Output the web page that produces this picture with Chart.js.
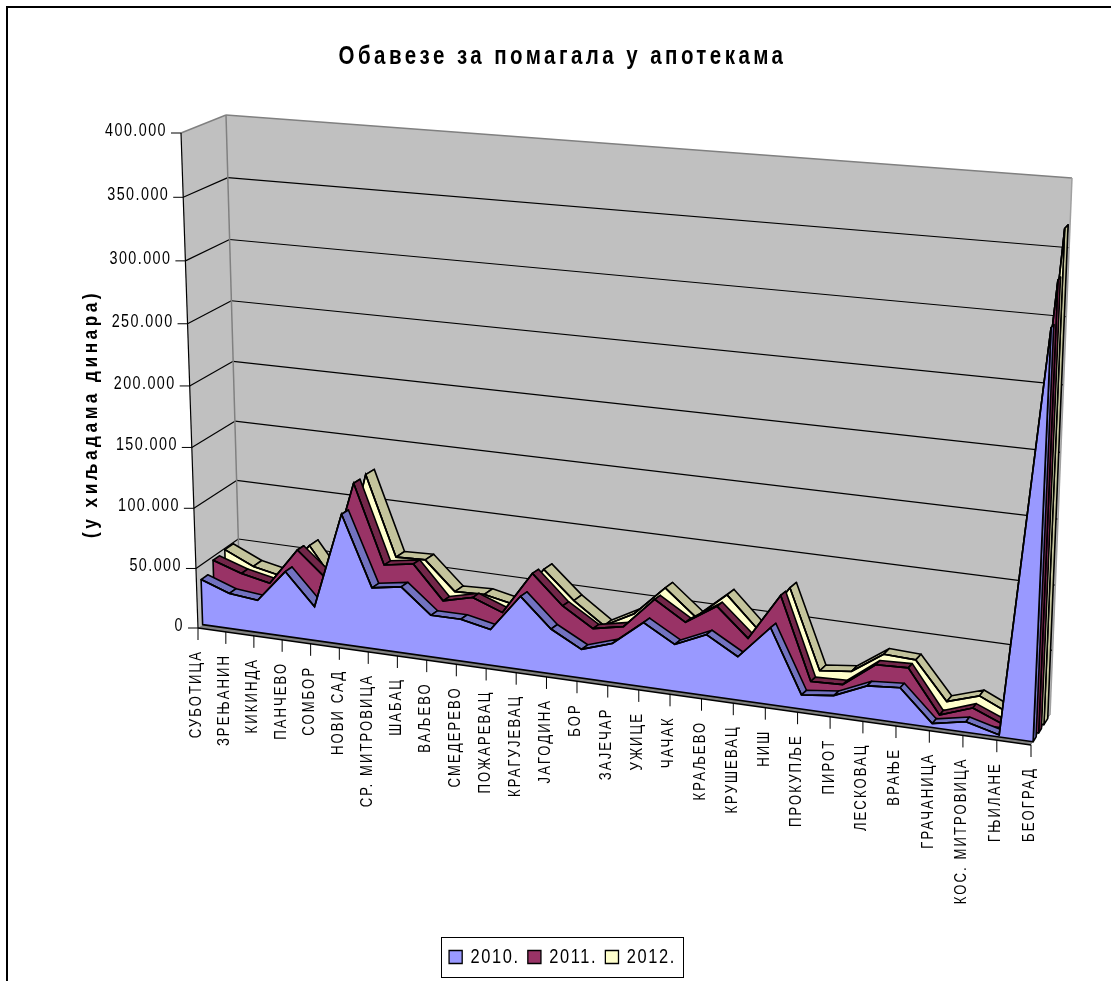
<!DOCTYPE html>
<html>
<head>
<meta charset="utf-8">
<title>Обавезе за помагала у апотекама</title>
<script src="https://cdn.jsdelivr.net/npm/chart.js@4"></script>
<style>
  html, body { margin: 0; padding: 0; background: #fff; }
  canvas { display: block; }
</style>
</head>
<body>
<canvas id="chart" width="1111" height="981"></canvas>
<script>
const cities = ['СУБОТИЦА', 'ЗРЕЊАНИН', 'КИКИНДА', 'ПАНЧЕВО', 'СОМБОР', 'НОВИ САД', 'СР. МИТРОВИЦА',
  'ШАБАЦ', 'ВАЉЕВО', 'СМЕДЕРЕВО', 'ПОЖАРЕВАЦ', 'КРАГУЈЕВАЦ', 'ЈАГОДИНА', 'БОР', 'ЗАЈЕЧАР', 'УЖИЦЕ',
  'ЧАЧАК', 'КРАЉЕВО', 'КРУШЕВАЦ', 'НИШ', 'ПРОКУПЉЕ', 'ПИРОТ', 'ЛЕСКОВАЦ', 'ВРАЊЕ', 'ГРАЧАНИЦА',
  'КОС. МИТРОВИЦА', 'ГЊИЛАНЕ', 'БЕОГРАД'];

const years = ['2010.', '2011.', '2012.'];

const values2010 = [38000, 29500, 27000, 54000, 28000, 107000, 50000, 54000, 34000, 34000, 29000, 59000, 36000, 23000,
  31000, 51000, 37000, 48000, 34000, 60000, 11000, 14000, 25000, 27000, 3000, 8000, 1500, 305000];
const values2011 = [47000, 39000, 34000, 65000, 44000, 126000, 62000, 66000, 39000, 45000, 36000, 71000, 48000, 33000,
  38000, 63000, 48000, 64000, 42000, 79000, 15000, 16000, 35000, 36000, 3000, 12000, 2000, 335000];
const values2012 = [49000, 38000, 33000, 62000, 30000, 127000, 62000, 63000, 40000, 41000, 36000, 68000, 46000, 29000,
  42000, 66000, 46000, 67000, 43000, 79000, 17000, 20000, 37000, 36000, 7000, 15000, 4000, 368000];

const faceColors = ['#9999ff', '#993366', '#ffffcc'];
const bandColors = ['#7272c0', '#732649', '#c4c49c'];

// depth of each series inside the box, 0 = front edge of the floor, 1 = back wall
const depths = [0.11, 0.40, 0.68];
const bandDepths = [0.16, 0.15, 0.2];

// all the text is set condensed and widely spaced
const textFont = '"Liberation Sans"';
const condense = 0.82;

// corners of the 3D box on screen
const box = {
  frontBottomLeft: [198, 628], frontBottomRight: [1031, 745],
  frontTopLeft: [181, 133], frontTopRight: [1055, 195],
  backBottomLeft: [240, 597], backBottomRight: [1050, 715],
  backTopLeft: [226, 115], backTopRight: [1072, 178]
};
const foreshortenFront = 0.101;
const foreshortenBack = 0.066;
const foreshortenY = 0.043;

const mix = (a, b, t) => [a[0] + (b[0] - a[0]) * t, a[1] + (b[1] - a[1]) * t];

// u along the categories, v up the value axis, w into the depth
function project(u, v, w) {
  const px = foreshortenFront + (foreshortenBack - foreshortenFront) * w;
  const s = (1 - px) * u / (1 - px * u);
  const t = (1 - foreshortenY) * v / (1 - foreshortenY * v);
  const front = mix(mix(box.frontBottomLeft, box.frontBottomRight, s), mix(box.frontTopLeft, box.frontTopRight, s), t);
  const back = mix(mix(box.backBottomLeft, box.backBottomRight, s), mix(box.backTopLeft, box.backTopRight, s), t);
  return mix(front, back, w);
}

function poly(ctx, pts, fill, stroke, width) {
  ctx.beginPath();
  pts.forEach((p, i) => (i ? ctx.lineTo(p[0], p[1]) : ctx.moveTo(p[0], p[1])));
  ctx.closePath();
  if (fill) { ctx.fillStyle = fill; ctx.fill(); }
  if (stroke) { ctx.strokeStyle = stroke; ctx.lineWidth = width; ctx.lineJoin = 'round'; ctx.stroke(); }
}

function seg(ctx, a, b, color, width) {
  ctx.beginPath();
  ctx.moveTo(a[0], a[1]);
  ctx.lineTo(b[0], b[1]);
  ctx.strokeStyle = color;
  ctx.lineWidth = width;
  ctx.stroke();
}

// draws a layout box (title, legend) squeezed horizontally around its centre
function condenseBox(chart, block, spacing) {
  if (block.condensed) return;
  const draw = block.draw;
  block.draw = function () {
    const ctx = chart.ctx;
    const cx = (block.left + block.right) / 2;
    ctx.save();
    ctx.letterSpacing = spacing;
    ctx.translate(cx, 0);
    ctx.scale(condense, 1);
    ctx.translate(-cx, 0);
    draw.call(block);
    ctx.restore();
  };
  block.condensed = true;
}

const plotU = (chart, px) => (px - chart.scales.x.left) / chart.scales.x.width;
const plotV = (chart, py) => (chart.scales.y.bottom - py) / chart.scales.y.height;

const box3d = {
  id: 'box3d',
  beforeLayout(chart) { chart.ctx.letterSpacing = '2px'; },
  afterLayout(chart) {
    condenseBox(chart, chart.titleBlock, '4.2px');
    condenseBox(chart, chart.legend, '2px');
  },
  // move the points the scales have placed onto their plane inside the box
  afterDatasetsUpdate(chart) {
    chart.data.datasets.forEach((ds, index) => {
      const meta = chart.getDatasetMeta(index);
      meta.plane = meta.data.map(el => {
        const u = plotU(chart, el.x);
        const v = plotV(chart, el.y);
        const p = project(u, v, depths[index]);
        el.x = p[0];
        el.y = p[1];
        return { u, v };
      });
    });
  },
  beforeDraw(chart) {
    const ctx = chart.ctx;
    ctx.save();
    ctx.strokeStyle = '#000';
    ctx.lineWidth = 2;
    ctx.strokeRect(7, 7, 1300, 1300);
    ctx.restore();
  },
  beforeDatasetsDraw(chart) {
    const ctx = chart.ctx;
    const { y: ys } = chart.scales;
    ctx.save();
    // walls
    poly(ctx, [project(0, 0, 0), project(0, 1, 0), project(0, 1, 1), project(0, 0, 1)], '#c0c0c0');
    poly(ctx, [project(0, 0, 1), project(0, 1, 1), project(1, 1, 1), project(1, 0, 1)], '#c0c0c0');
    // gridlines run along the side wall and then the back wall
    ys.ticks.forEach(tick => {
      const v = plotV(chart, ys.getPixelForValue(tick.value));
      if (v > 0 && v < 1) {
        seg(ctx, project(0, v, 0), project(0, v, 1), '#000', 1.2);
        seg(ctx, project(0, v, 1), project(1, v, 1), '#000', 1.2);
      }
    });
    seg(ctx, project(0, 1, 0), project(0, 1, 1), '#808080', 1.5);
    seg(ctx, project(0, 1, 1), project(1, 1, 1), '#808080', 1.5);
    seg(ctx, project(0, 0, 1), project(0, 1, 1), '#808080', 1.5);
    seg(ctx, project(1, 0, 1), project(1, 1, 1), '#a0a0a0', 1.5);
    // floor
    poly(ctx, [project(0, 0, 0), project(1, 0, 0), project(1, 0, 1), project(0, 0, 1)], '#808080');
    seg(ctx, project(0, 0, 0), project(1, 0, 0), '#000', 1.5);
    seg(ctx, project(0, 0, 0), project(0, 1, 0), '#000', 1.2);
    ctx.restore();
  },
  beforeDatasetDraw(chart, args) {
    const ctx = chart.ctx;
    const index = args.index;
    const meta = chart.getDatasetMeta(index);
    const plane = meta.plane;
    const w = depths[index];
    const back = w + bandDepths[index];
    const last = plane.length - 1;
    ctx.save();
    // top surface of the ribbon, then its closing side at the last category
    for (let i = 0; i < last; i++) {
      const a = plane[i];
      const b = plane[i + 1];
      poly(ctx, [project(a.u, a.v, w), project(b.u, b.v, w), project(b.u, b.v, back), project(a.u, a.v, back)],
        bandColors[index], '#000', 1.6);
    }
    const end = plane[last];
    poly(ctx, [project(end.u, end.v, w), project(end.u, 0, w), project(end.u, 0, back), project(end.u, end.v, back)],
      bandColors[index], '#000', 1.6);
    // front face down to the floor
    const pts = meta.data.map(el => [el.x, el.y]);
    pts.push(project(end.u, 0, w), project(plane[0].u, 0, w));
    poly(ctx, pts, faceColors[index], '#000', 1.6);
    ctx.restore();
  },
  afterDatasetsDraw(chart) {
    const ctx = chart.ctx;
    const { x: xs, y: ys } = chart.scales;
    ctx.save();
    ctx.fillStyle = '#000';
    ctx.textBaseline = 'middle';

    // value axis
    ctx.font = '17.5px ' + textFont;
    ctx.letterSpacing = '1.75px';
    ctx.textAlign = 'right';
    ys.ticks.forEach(tick => {
      const v = plotV(chart, ys.getPixelForValue(tick.value));
      const p = project(0, v, 0);
      seg(ctx, [p[0] - 10, p[1]], p, '#000', 1);
      ctx.save();
      ctx.translate(p[0] - 14, p[1] - 2);
      ctx.scale(condense, 1);
      ctx.fillText(tick.label, 0, 0);
      ctx.restore();
    });

    // category axis
    ctx.font = '16px ' + textFont;
    ctx.letterSpacing = '2.5px';
    xs.ticks.forEach((tick, i) => {
      const p = project(plotU(chart, xs.getPixelForTick(i)), 0, 0);
      seg(ctx, p, [p[0], p[1] + 12], '#000', 1);
      ctx.save();
      ctx.translate(p[0] - 1, p[1] + 22);
      ctx.rotate(-Math.PI / 2);
      ctx.scale(condense, 1);
      ctx.fillText(tick.label, 0, 0);
      ctx.restore();
    });

    // value axis title
    ctx.font = 'bold 21px ' + textFont;
    ctx.letterSpacing = '4.3px';
    ctx.translate(91, 414);
    ctx.rotate(-Math.PI / 2);
    ctx.scale(condense, 1);
    ctx.textAlign = 'center';
    ctx.fillText('(у хиљадама динара)', 0, 0);
    ctx.restore();
  },
  afterDraw(chart) {
    const ctx = chart.ctx;
    ctx.save();
    ctx.strokeStyle = '#000';
    ctx.lineWidth = 1;
    ctx.strokeRect(441.5, 937.5, 242, 40);
    ctx.restore();
  }
};

new Chart(document.getElementById('chart'), {
  type: 'line',
  data: {
    labels: cities,
    datasets: [
      { label: years[0], data: values2010, backgroundColor: faceColors[0] },
      { label: years[1], data: values2011, backgroundColor: faceColors[1] },
      { label: years[2], data: values2012, backgroundColor: faceColors[2] }
    ].map(ds => ({ ...ds, borderColor: '#000', borderWidth: 1.6, tension: 0, pointRadius: 0, fill: false, clip: false }))
  },
  options: {
    responsive: false,
    animation: false,
    layout: { padding: { left: 14, top: 42, bottom: 4 } },
    scales: {
      x: { display: false, ticks: { autoSkip: false } },
      y: {
        display: false,
        min: 0,
        max: 400000,
        ticks: {
          stepSize: 50000,
          callback: v => String(v).replace(/\B(?=(\d{3})+$)/g, '.')
        }
      }
    },
    plugins: {
      title: {
        display: true,
        text: 'Обавезе за помагала у апотекама',
        color: '#000',
        font: { family: textFont, size: 25, weight: 'bold' },
        padding: { top: 0, bottom: 0 }
      },
      legend: {
        position: 'bottom',
        labels: {
          color: '#000',
          font: { family: textFont, size: 20 },
          boxWidth: 16,
          boxHeight: 13,
          padding: 10
        }
      },
      tooltip: { enabled: false }
    }
  },
  plugins: [box3d]
});
</script>
</body>
</html>
